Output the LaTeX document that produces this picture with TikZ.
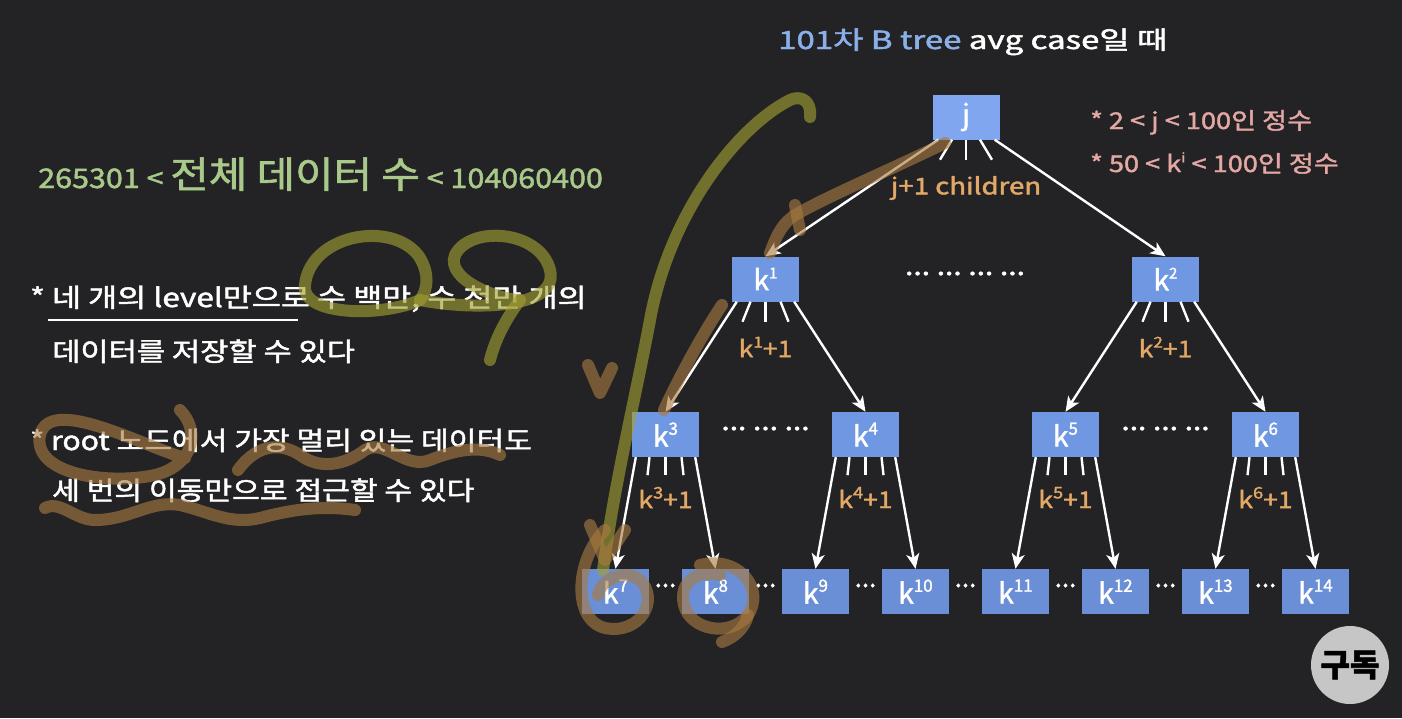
\documentclass[tikz,border=0pt]{standalone}
\usepackage{fontspec}
\usepackage{graphicx}
\setmainfont{Noto Sans CJK KR}[FakeBold=1.6]
\usetikzlibrary{arrows.meta}
\definecolor{bg}{HTML}{232325}
\definecolor{rootblue}{HTML}{7FA6EF}
\definecolor{boxblue}{HTML}{7098E2}
\definecolor{leafblue}{HTML}{6A8FD6}
\definecolor{titleblue}{HTML}{8AB0EA}
\definecolor{green}{HTML}{A8C98A}
\definecolor{pink}{HTML}{E3A7A4}
\definecolor{orange}{HTML}{E2A866}
\definecolor{olive}{HTML}{A3A032}
\definecolor{brown}{HTML}{A87A40}
\newcommand\fs[1]{\fontsize{#1}{#1}\selectfont}
\newcommand\wide[2]{\scalebox{#1}[1]{#2}}
\newcommand\kk[2][15]{k\raisebox{0.42em}{\fs{#1}#2}}
\newcommand\mdots{\raisebox{0.28em}{...}}
\tikzset{
  keybox/.style={draw=none, minimum width=67pt, minimum height=45pt, inner sep=0pt,
                 text=white, font=\fs{28}},
  edge/.style={white, line width=2.4pt, -{Stealth[length=15pt,width=13pt,inset=4pt]}},
  fan/.style={white, line width=2.4pt},
  lbl/.style={text=orange, font=\fs{23}, inner sep=0pt},
  dotrow/.style={text=white, font=\fs{26}, inner sep=0pt},
  txt/.style={anchor=base west, inner sep=0pt, text=white, font=\fs{26}},
  ink/.style={line width=12pt, line cap=round, line join=round, opacity=0.62},
}
\begin{document}
\begin{tikzpicture}[x=1pt,y=-1pt]
\fill[bg] (0,0) rectangle (1402,718);
\useasboundingbox (0,0) rectangle (1402,718);

% title and side notes
\node[txt, font=\fs{25}] (title) at (778,49)
  {\wide{1.32}{\textcolor{titleblue}{101차 B tree} avg case일 때}};
\node[txt, text=pink, font=\fs{23}] (n1) at (1090,129) {\wide{1.18}{* 2 < j < 100인 정수}};
\node[txt, text=pink, font=\fs{23}] (n2) at (1090,172)
  {\wide{1.18}{* 50 < k\raisebox{0.42em}{\fs{13}i} < 100인 정수}};

\node[txt, text=green, font=\fs{27}] (total) at (38,188)
  {\wide{1.13}{265301 < {\fs{37}전체 데이터 수} < 104060400}};

\node[txt] (b1) at (30,307) {\wide{1.215}{* 네 개의 level만으로 수 백만, 수 천만 개의}};
\draw[white, line width=2.2pt] (48,320) -- (298,320);
\node[txt] (b2) at (52,361) {\wide{1.18}{데이터를 저장할 수 있다}};
\node[txt] (b3) at (30,450) {\wide{1.16}{* root 노드에서 가장 멀리 있는 데이터도}};
\node[txt] (b4) at (52,500) {\wide{1.16}{세 번의 이동만으로 접근할 수 있다}};

% tree nodes
\node[keybox, fill=rootblue] (j) at (966,117) {j};
\node[keybox, fill=boxblue] (k1) at (765.5,279) {\kk{1}};
\node[keybox, fill=boxblue] (k2) at (1165.5,279) {\kk{2}};
\node[keybox, fill=boxblue] (k3) at (665.5,434.5) {\kk[17]{3}};
\node[keybox, fill=boxblue] (k4) at (865.5,434.5) {\kk[17]{4}};
\node[keybox, fill=boxblue] (k5) at (1065.5,434.5) {\kk[17]{5}};
\node[keybox, fill=boxblue] (k6) at (1265.5,434.5) {\kk[17]{6}};
\foreach \i [count=\n from 0] in {7,...,14}
  \node[keybox, fill=leafblue] (k\i) at (615.5+100*\n,591.5) {\kk[17]{\i}};

% edges from the root
\draw[edge] ([xshift=6pt]j.south west) -- (k1.north);
\draw[edge] ([xshift=-5pt]j.south east) -- (k2.north);
\draw[fan] ([xshift=-14pt]j.south) -- ++(-12,20);
\draw[fan] (j.south) -- ++(0,20);
\draw[fan] ([xshift=14pt]j.south) -- ++(12,20);
\node[lbl] (jl) at (966,188) {\wide{1.2}{j+1 children}};

% second level edges
\foreach \p/\a/\b/\t in {k1/k3/k4/1, k2/k5/k6/2} {
  \draw[edge] ([xshift=5pt]\p.south west) -- (\a.north);
  \draw[edge] ([xshift=-5pt]\p.south east) -- (\b.north);
  \draw[fan] ([xshift=-15pt]\p.south) -- ++(-8,20);
  \draw[fan] (\p.south) -- ++(0,20);
  \draw[fan] ([xshift=15pt]\p.south) -- ++(8,20);
  \node[lbl] (l\p) at ([yshift=-68pt]\p.center) {\wide{1.15}{\kk{\t}+1}};
}

% third level edges
\foreach \p/\a/\b/\t in {k3/k7/k8/3, k4/k9/k10/4, k5/k11/k12/5, k6/k13/k14/6} {
  \draw[edge] ([xshift=4pt]\p.south west) -- (\a.north);
  \draw[edge] ([xshift=-4pt]\p.south east) -- (\b.north);
  \draw[fan] ([xshift=-16pt]\p.south) -- ++(-2,18);
  \draw[fan] (\p.south) -- ++(0,18);
  \draw[fan] ([xshift=16pt]\p.south) -- ++(2,18);
  \node[lbl] (l\p) at ([yshift=-63pt]\p.center) {\wide{1.15}{\kk[16]{\t}+1}};
}

% ellipses between siblings
\node[dotrow] (d1) at (965,277) {\wide{1.15}{\mdots\ \mdots\ \mdots\ \mdots}};
\node[dotrow] (d2) at (765.5,432) {\wide{1.15}{\mdots\ \mdots\ \mdots}};
\node[dotrow] (d3) at (1165.5,432) {\wide{1.15}{\mdots\ \mdots\ \mdots}};
\foreach \n in {0,...,6}
  \node[dotrow] (e\n) at (665.5+100*\n,589) {\mdots};

% subscribe badge
\node[circle, fill=gray!45!white, minimum size=78pt, inner sep=0pt, text=black,
      font=\fs{32}\bfseries] (sub) at (1350,665) {구독};

% hand-drawn highlights
\draw[ink, olive] (810,117) .. controls (812,100) and (800,95) .. (790,100)
  .. controls (740,125) and (670,210) .. (650,320)
  .. controls (635,400) and (615,480) .. (603,570);
\draw[ink, olive] (420,300) .. controls (380,318) and (300,315) .. (305,285)
  .. controls (310,235) and (390,220) .. (418,255)
  .. controls (430,272) and (428,290) .. (420,300);
\draw[ink, olive] (420,300) .. controls (470,310) and (560,310) .. (550,270)
  .. controls (540,230) and (470,225) .. (455,255)
  .. controls (445,280) and (500,300) .. (520,300);
\draw[ink, olive] (520,300) .. controls (505,320) and (495,340) .. (490,360);

\draw[ink, brown] (945,143) .. controls (890,170) and (830,195) .. (795,215)
  .. controls (780,225) and (775,240) .. (770,253);
\draw[ink, brown] (795,205) -- (800,230);
\draw[ink, brown] (722,305) .. controls (705,330) and (680,375) .. (664,410);
\draw[ink, brown] (588,365) -- (600,393) -- (612,368);
\draw[ink, brown] (590,525) -- (605,560) -- (625,530);
\draw[ink, brown] (605,530) .. controls (575,560) and (572,620) .. (605,628)
  .. controls (640,635) and (660,600) .. (640,580)
  .. controls (625,568) and (600,580) .. (598,595);
\draw[ink, brown] (700,565) .. controls (740,555) and (765,590) .. (748,615)
  .. controls (730,638) and (690,630) .. (684,605)
  .. controls (678,580) and (700,570) .. (720,575);
\draw[ink, brown] (748,615) .. controls (745,628) and (735,637) .. (722,642);

\draw[ink, brown] (185,458) .. controls (140,445) and (50,395) .. (40,435)
  .. controls (32,475) and (110,485) .. (155,475)
  .. controls (195,465) and (200,430) .. (180,410);
\draw[ink, brown] (238,470) .. controls (260,440) and (285,445) .. (300,455)
  .. controls (320,470) and (345,465) .. (365,450)
  .. controls (385,438) and (405,470) .. (430,460)
  .. controls (455,450) and (480,445) .. (500,455);
\draw[ink, brown] (45,508) .. controls (60,500) and (75,520) .. (95,520)
  .. controls (130,520) and (150,500) .. (180,505)
  .. controls (210,512) and (230,525) .. (260,518)
  .. controls (290,510) and (320,505) .. (355,510);
\end{tikzpicture}
\end{document}
